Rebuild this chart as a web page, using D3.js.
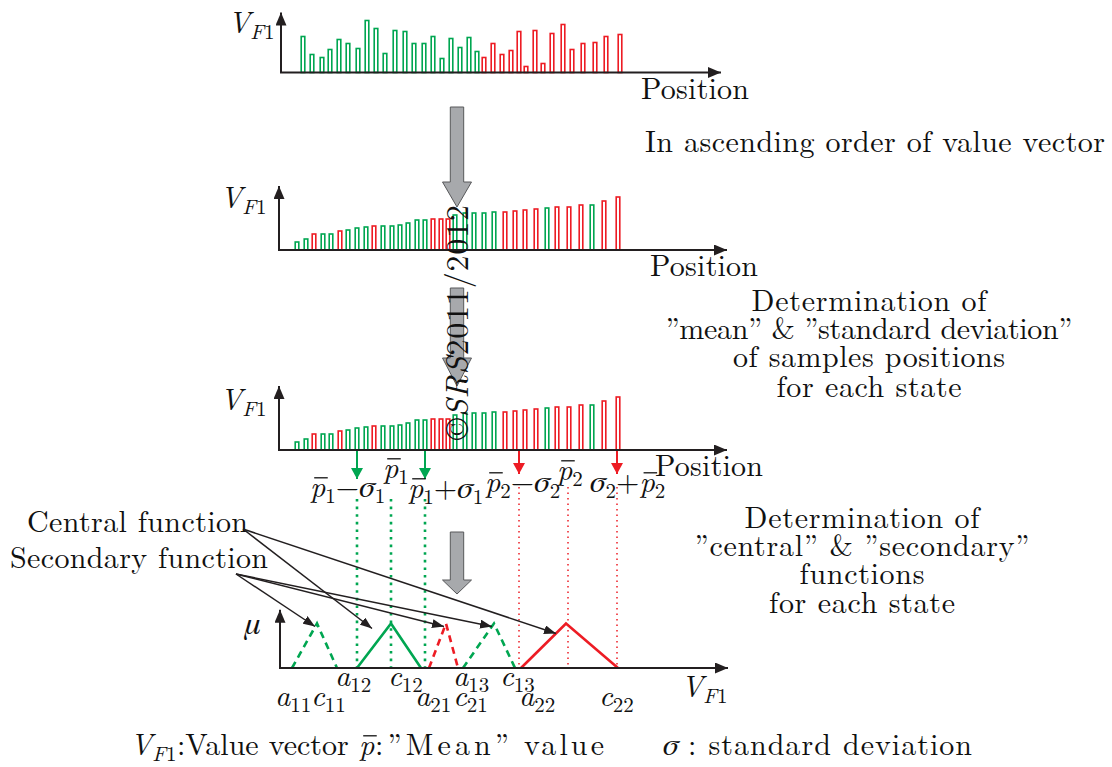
<!DOCTYPE html>
<html>
<head>
<meta charset="utf-8">
<script src="https://cdn.jsdelivr.net/npm/d3@7"></script>
<style>
  body { margin: 0; background: #fff; }
  svg { display: block; }
</style>
</head>
<body>
<svg width="1112" height="767"></svg>
<script>
// samples in their original order (state 1 = green, 2 = red)
const rawPos = [24, 33, 43, 51, 60, 69, 79, 88, 97, 106, 116, 126, 135, 145, 154, 163, 172, 181, 190, 198,
  205, 214, 223, 232, 240, 247, 256, 264, 273, 284, 293, 304, 316, 327, 341];
const rawVal = [36, 18, 15, 23, 33, 29, 24, 52, 44, 19, 42, 41, 29, 29, 36, 14, 34, 25, 35, 21,
  15, 29, 18, 22, 41, 6, 42, 9, 39, 48, 23, 29, 30, 36, 38];
const rawState = [1, 1, 1, 1, 1, 1, 1, 1, 1, 1, 1, 1, 1, 1, 1, 1, 1, 1, 1, 1,
  2, 2, 2, 2, 2, 2, 2, 2, 2, 2, 2, 2, 2, 2, 2];

// same samples in ascending order of value
const sortPos = [18, 27, 35, 44, 52, 61, 69, 78, 87, 95, 104, 113, 121, 129, 138, 146, 154, 162, 169, 176,
  186, 195, 205, 215, 226, 236, 246, 257, 268, 278, 290, 302, 313, 325, 339];
const sortVal = [8, 11, 16, 16, 16, 19, 20, 22, 23, 24, 24, 24, 25, 27, 30, 30, 31, 31, 31, 35,
  37, 37, 37, 38, 38, 39, 40, 41, 42, 43, 43, 45, 45, 49, 53];
const sortState = [1, 1, 2, 1, 1, 2, 1, 1, 1, 2, 1, 1, 1, 1, 1, 1, 2, 2, 2, 1,
  1, 1, 1, 1, 2, 2, 2, 2, 1, 2, 2, 2, 1, 2, 2];

// mean / standard deviation of sample positions for each state
const stateMean = [112, 289];
const stateStd = [34, 49];

// membership functions
const fnStart = [13, 78, 150, 184, 242];
const fnPeak = [38, 112, 167, 215, 287];
const fnEnd = [58, 142, 179, 236, 339];
const fnState = [1, 1, 2, 1, 2];
const fnKind = ["secondary", "central", "secondary", "secondary", "central"];

const FONT = "'Latin Modern Roman', 'Liberation Serif', serif";
const GREEK = "'FreeSerif', 'Liberation Serif', serif";
const color = { 1: "#00a651", 2: "#ed1c24" };
const svg = d3.select("svg");
const x = d3.scaleLinear().domain([0, 450]).range([279, 729]);

// arrow markers
const defs = svg.append("defs");
function marker(id, fill, len, hw) {
  defs.append("marker")
    .attr("id", id)
    .attr("markerUnits", "userSpaceOnUse")
    .attr("viewBox", `0 ${-hw} ${len} ${hw * 2}`)
    .attr("refX", len).attr("refY", 0)
    .attr("markerWidth", len).attr("markerHeight", hw * 2)
    .attr("orient", "auto")
    .append("path")
    .attr("d", `M0,${-hw}L${len},0L0,${hw}Z`)
    .attr("fill", fill);
}
marker("axisHead", "#231f20", 13, 5.5);
marker("noteHead", "#231f20", 12, 4.5);
marker("greenHead", color[1], 11, 6);
marker("redHead", color[2], 11, 6);

function txt(x0, y0, str, opt = {}) {
  const t = svg.append("text")
    .attr("x", x0).attr("y", y0)
    .style("font-family", FONT)
    .attr("font-size", opt.size || 30)
    .attr("text-anchor", opt.anchor || "start")
    .attr("fill", "#111")
    .text(str);
  if (opt.width) t.attr("textLength", opt.width).attr("lengthAdjust", "spacing");
  return t;
}

// math label built piece by piece: italic letters, subscripts, overline
function mathText(x0, y0, parts, size = 30) {
  let cx = x0;
  parts.forEach((p) => {
    const fs = p.sub ? size * 0.7 : (p.gr ? size * 1.05 : size);
    const t = svg.append("text")
      .attr("x", cx)
      .attr("y", y0 + (p.sub ? size * 0.2 : 0))
      .style("font-family", p.gr ? GREEK : FONT)
      .attr("font-size", fs)
      .attr("font-style", p.it ? "italic" : "normal")
      .attr("font-weight", "normal")
      .attr("fill", "#111")
      .text(p.t);
    const w = t.node().getComputedTextLength();
    if (p.bar) {
      svg.append("line")
        .attr("x1", cx + fs * 0.14).attr("x2", cx + w + fs * 0.08)
        .attr("y1", y0 - size * 0.64).attr("y2", y0 - size * 0.64)
        .attr("stroke", "#111").attr("stroke-width", 1.3);
    }
    cx += w + (p.gap || 0);
  });
}

const VF1 = [{ t: "V", it: true }, { t: "F", it: true, sub: true }, { t: "1", sub: true }];

function drawBars(pos, val, state, y) {
  svg.append("g").selectAll("rect")
    .data(pos.map((p, i) => ({ p, v: val[i], s: state[i] })))
    .enter()
    .append("rect")
    .attr("x", (d) => x(d.p) - 1.8)
    .attr("y", (d) => y(d.v))
    .attr("width", 3.6)
    .attr("height", (d) => y(0) - y(d.v))
    .attr("fill", "#fff")
    .attr("stroke", (d) => color[d.s])
    .attr("stroke-width", 1.6);
}

function drawAxes(x0, x1, y, yMax) {
  const g = svg.append("g").attr("stroke", "#231f20").attr("stroke-width", 2).attr("fill", "none");
  g.append("line")
    .attr("x1", x(x0)).attr("y1", y(0)).attr("x2", x(x0)).attr("y2", y(yMax))
    .attr("marker-end", "url(#axisHead)");
  g.append("line")
    .attr("x1", x(x0) - 1).attr("y1", y(0)).attr("x2", x(x1)).attr("y2", y(0))
    .attr("marker-end", "url(#axisHead)");
}

// chart 1: raw value vector
const y1 = d3.scaleLinear().domain([0, 60]).range([72.5, 12.5]);
drawBars(rawPos, rawVal, rawState, y1);
drawAxes(2, 442, y1, 60);
mathText(228, 33, VF1);
txt(641, 99, "Position", { width: 108 });

// chart 2: sorted
const y2 = d3.scaleLinear().domain([0, 64]).range([250, 186]);
drawBars(sortPos, sortVal, sortState, y2);
drawAxes(0, 448, y2, 64);
mathText(220, 208, VF1);
txt(650, 276, "Position", { width: 108 });

// chart 3: sorted, with mean / std markers
const y3 = d3.scaleLinear().domain([0, 64]).range([450, 386]);
drawBars(sortPos, sortVal, sortState, y3);
drawAxes(0, 448, y3, 64);
mathText(220, 410, VF1);
txt(655, 476, "Position", { width: 108 });

stateMean.forEach((m, i) => {
  const tipY = i === 0 ? 479 : 474;
  [m - stateStd[i], m + stateStd[i]].forEach((p) => {
    svg.append("line")
      .attr("x1", x(p)).attr("y1", y3(0) + 1).attr("x2", x(p)).attr("y2", tipY)
      .attr("stroke", color[i + 1]).attr("stroke-width", 2)
      .attr("marker-end", i === 0 ? "url(#greenHead)" : "url(#redHead)");
  });
});

// dotted guides down to the membership axis
const yMu = d3.scaleLinear().domain([0, 1]).range([668, 623.5]);
stateMean.forEach((m, i) => {
  [m - stateStd[i], m, m + stateStd[i]].forEach((p) => {
    svg.append("line")
      .attr("x1", x(p)).attr("x2", x(p))
      .attr("y1", i === 0 ? 499 : 487).attr("y2", yMu(0))
      .attr("stroke", color[i + 1])
      .attr("stroke-width", i === 0 ? 2.6 : 1.5)
      .attr("stroke-dasharray", i === 0 ? "2.6,5" : "1.5,4");
  });
});

// labels under chart 3
const P = (n) => [{ t: "p", it: true, bar: true }, { t: n, sub: true }];
const S = (n) => [{ t: "σ", it: true, gr: true }, { t: n, sub: true }];
mathText(310, 497, [...P("1"), { t: "−" }, ...S("1")]);
mathText(383, 478, P("1"));
mathText(408, 498, [...P("1"), { t: "+" }, ...S("1")]);
mathText(485, 492, [...P("2"), { t: "−" }, ...S("2")]);
mathText(557, 480, P("2"));
mathText(590, 492, [...S("2"), { t: "+" }, ...P("2")]);

// membership functions
const line = d3.line().x((d) => x(d[0])).y((d) => yMu(d[1]));
fnStart.forEach((s, i) => {
  svg.append("path")
    .attr("d", line([[s, 0], [fnPeak[i], 1], [fnEnd[i], 0]]))
    .attr("fill", "none")
    .attr("stroke", color[fnState[i]])
    .attr("stroke-width", 2.6)
    .attr("stroke-dasharray", fnKind[i] === "secondary" ? "7,5" : null);
});
drawAxes(1, 449, yMu, 1.31);
mathText(245, 634, [{ t: "μ", it: true, gr: true }]);
mathText(681, 697, VF1);

const sub = (l, n) => [{ t: l, it: true }, { t: n, sub: true }];
mathText(335, 686, sub("a", "12"));
mathText(388, 686, sub("c", "12"));
mathText(453, 686, sub("a", "13"));
mathText(500, 686, sub("c", "13"));
mathText(275, 706, sub("a", "11"));
mathText(311, 706, sub("c", "11"));
mathText(415, 706, sub("a", "21"));
mathText(453, 706, sub("c", "21"));
mathText(519, 706, sub("a", "22"));
mathText(599, 706, sub("c", "22"));

// annotation arrows
txt(27, 532, "Central function", { width: 221 });
txt(10, 568, "Secondary function", { width: 258 });
const note = svg.append("g").attr("stroke", "#231f20").attr("stroke-width", 1.5);
fnPeak.forEach((p, i) => {
  let from, tx, ty;
  if (fnKind[i] === "central") {
    from = [243, 529];
    tx = x(p) - (fnState[i] === 1 ? 19 : 10);
    ty = yMu(1) + (fnState[i] === 1 ? 5 : 10);
  } else {
    from = [236, 574];
    tx = x(p) - 2;
    ty = yMu(1) + 3;
  }
  note.append("line")
    .attr("x1", from[0]).attr("y1", from[1]).attr("x2", tx).attr("y2", ty)
    .attr("marker-end", "url(#noteHead)");
});

// grey process arrows
function blockArrow(cx, top, headTop, tip) {
  const sw = 6.7, hw = 14.5;
  const pts = [[cx - sw, top], [cx + sw, top], [cx + sw, headTop], [cx + hw, headTop],
    [cx, tip], [cx - hw, headTop], [cx - sw, headTop]];
  svg.append("path")
    .attr("d", d3.line()(pts) + "Z")
    .attr("fill", "#a7a9ac")
    .attr("stroke", "#58595b")
    .attr("stroke-width", 1);
}
blockArrow(457, 107, 182, 207);
blockArrow(457, 288, 358, 386);
blockArrow(457, 532, 580, 594);

// step descriptions
txt(645, 152, "In ascending order of value vector", { width: 460 });
txt(869, 311, "Determination of", { anchor: "middle", width: 235 });
txt(869, 339, "”mean” & ”standard deviation”", { anchor: "middle", width: 407 });
txt(869, 367, "of samples positions", { anchor: "middle", width: 272 });
txt(869, 397, "for each state", { anchor: "middle", width: 185 });
txt(862, 528, "Determination of", { anchor: "middle", width: 235 });
txt(862, 556, "”central” & ”secondary”", { anchor: "middle", width: 335 });
txt(862, 584, "functions", { anchor: "middle", width: 125 });
txt(862, 613, "for each state", { anchor: "middle", width: 186 });

// legend line
mathText(130, 755, VF1);
txt(177, 755, ":Value vector");
mathText(359, 755, [{ t: "p", it: true, bar: true }]);
txt(375, 755, ":”Mean”", { width: 134 });
txt(524, 755, "value", { width: 80 });
mathText(663, 755, [{ t: "σ", it: true, gr: true }]);
txt(688, 755, ": standard deviation", { width: 284 });

// watermark
const wm = svg.append("text")
  .attr("transform", "translate(468,440) rotate(-90)")
  .style("font-family", FONT)
  .attr("font-size", 32)
  .attr("fill", "#111")
  .attr("textLength", 235)
  .attr("lengthAdjust", "spacing");
wm.append("tspan").text("©");
wm.append("tspan").attr("font-style", "italic").text("SRS");
wm.append("tspan").text("2011/2012");
</script>
</body>
</html>
